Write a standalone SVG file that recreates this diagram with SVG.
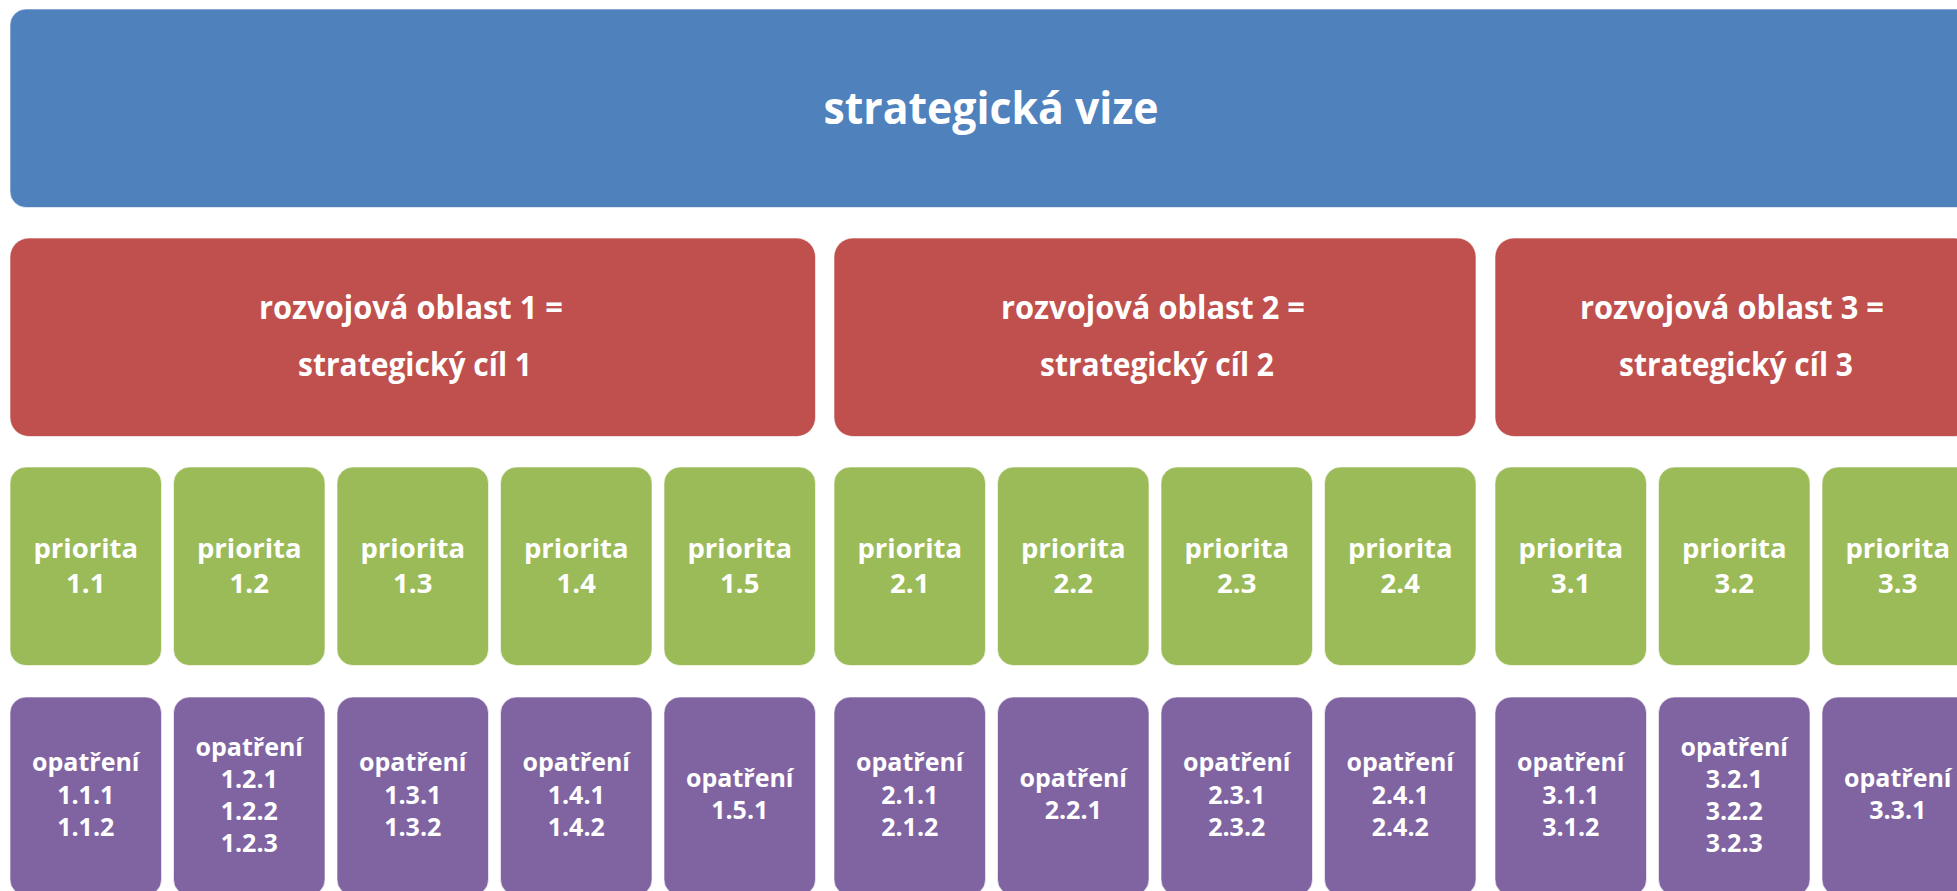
<svg xmlns="http://www.w3.org/2000/svg" width="1957" height="891" viewBox="0 0 1957 891">
<style>
  .box { stroke: #ffffff; stroke-opacity: 0.6; stroke-width: 1; }
  .vize { fill: #4F81BD; }
  .oblast { fill: #C0504D; }
  .prio { fill: #9BBB59; }
  .opat { fill: #8064A2; }
  text { font-family: "Open Sans", "Noto Sans", "Liberation Sans", sans-serif; font-weight: bold; fill: #ffffff; text-anchor: middle; }
  .t-vize { font-size: 45px; }
  .t-obl { font-size: 32px; }
  .t-prio { font-size: 27.5px; }
  .t-opat { font-size: 25px; }
</style>
<rect width="1957" height="891" fill="#ffffff"/>

<g id="vize">
  <rect class="box vize" x="10" y="9" width="1963.5" height="198.5" rx="16"/>
  <text class="t-vize" x="991" y="123.5" textLength="335" lengthAdjust="spacingAndGlyphs">strategická vize</text>
</g>

<g id="oblast1">
  <rect class="box oblast" x="10" y="238" width="805.5" height="198.5" rx="19"/>
  <text class="t-obl" x="411" y="319" textLength="304" lengthAdjust="spacingAndGlyphs">rozvojová oblast 1 =</text>
  <text class="t-obl" x="415" y="376" textLength="234" lengthAdjust="spacingAndGlyphs">strategický cíl 1</text>
</g>
<g id="oblast2">
  <rect class="box oblast" x="834" y="238" width="642" height="198.5" rx="19"/>
  <text class="t-obl" x="1153" y="319" textLength="304" lengthAdjust="spacingAndGlyphs">rozvojová oblast 2 =</text>
  <text class="t-obl" x="1157" y="376" textLength="234" lengthAdjust="spacingAndGlyphs">strategický cíl 2</text>
</g>
<g id="oblast3">
  <rect class="box oblast" x="1495" y="238" width="478.5" height="198.5" rx="19"/>
  <text class="t-obl" x="1732" y="319" textLength="304" lengthAdjust="spacingAndGlyphs">rozvojová oblast 3 =</text>
  <text class="t-obl" x="1736" y="376" textLength="234" lengthAdjust="spacingAndGlyphs">strategický cíl 3</text>
</g>

<g id="priorita1-1"><rect class="box prio" x="10" y="467" width="151.5" height="198.5" rx="16"/><text class="t-prio" x="85.75" y="558">priorita</text><text class="t-prio" x="85.75" y="593">1.1</text></g>
<g id="priorita1-2"><rect class="box prio" x="173.5" y="467" width="151.5" height="198.5" rx="16"/><text class="t-prio" x="249.25" y="558">priorita</text><text class="t-prio" x="249.25" y="593">1.2</text></g>
<g id="priorita1-3"><rect class="box prio" x="337" y="467" width="151.5" height="198.5" rx="16"/><text class="t-prio" x="412.75" y="558">priorita</text><text class="t-prio" x="412.75" y="593">1.3</text></g>
<g id="priorita1-4"><rect class="box prio" x="500.5" y="467" width="151.5" height="198.5" rx="16"/><text class="t-prio" x="576.25" y="558">priorita</text><text class="t-prio" x="576.25" y="593">1.4</text></g>
<g id="priorita1-5"><rect class="box prio" x="664" y="467" width="151.5" height="198.5" rx="16"/><text class="t-prio" x="739.75" y="558">priorita</text><text class="t-prio" x="739.75" y="593">1.5</text></g>
<g id="priorita2-1"><rect class="box prio" x="834" y="467" width="151.5" height="198.5" rx="16"/><text class="t-prio" x="909.75" y="558">priorita</text><text class="t-prio" x="909.75" y="593">2.1</text></g>
<g id="priorita2-2"><rect class="box prio" x="997.5" y="467" width="151.5" height="198.5" rx="16"/><text class="t-prio" x="1073.25" y="558">priorita</text><text class="t-prio" x="1073.25" y="593">2.2</text></g>
<g id="priorita2-3"><rect class="box prio" x="1161" y="467" width="151.5" height="198.5" rx="16"/><text class="t-prio" x="1236.75" y="558">priorita</text><text class="t-prio" x="1236.75" y="593">2.3</text></g>
<g id="priorita2-4"><rect class="box prio" x="1324.5" y="467" width="151.5" height="198.5" rx="16"/><text class="t-prio" x="1400.25" y="558">priorita</text><text class="t-prio" x="1400.25" y="593">2.4</text></g>
<g id="priorita3-1"><rect class="box prio" x="1495" y="467" width="151.5" height="198.5" rx="16"/><text class="t-prio" x="1570.75" y="558">priorita</text><text class="t-prio" x="1570.75" y="593">3.1</text></g>
<g id="priorita3-2"><rect class="box prio" x="1658.5" y="467" width="151.5" height="198.5" rx="16"/><text class="t-prio" x="1734.25" y="558">priorita</text><text class="t-prio" x="1734.25" y="593">3.2</text></g>
<g id="priorita3-3"><rect class="box prio" x="1822" y="467" width="151.5" height="198.5" rx="16"/><text class="t-prio" x="1897.75" y="558">priorita</text><text class="t-prio" x="1897.75" y="593">3.3</text></g>

<g id="opatreni1-1"><rect class="box opat" x="10" y="697" width="151.5" height="198.5" rx="16"/><text class="t-opat" x="85.75" y="771">opatření</text><text class="t-opat" x="85.75" y="803.5">1.1.1</text><text class="t-opat" x="85.75" y="836">1.1.2</text></g>
<g id="opatreni1-2"><rect class="box opat" x="173.5" y="697" width="151.5" height="198.5" rx="16"/><text class="t-opat" x="249.25" y="756">opatření</text><text class="t-opat" x="249.25" y="788">1.2.1</text><text class="t-opat" x="249.25" y="820">1.2.2</text><text class="t-opat" x="249.25" y="852">1.2.3</text></g>
<g id="opatreni1-3"><rect class="box opat" x="337" y="697" width="151.5" height="198.5" rx="16"/><text class="t-opat" x="412.75" y="771">opatření</text><text class="t-opat" x="412.75" y="803.5">1.3.1</text><text class="t-opat" x="412.75" y="836">1.3.2</text></g>
<g id="opatreni1-4"><rect class="box opat" x="500.5" y="697" width="151.5" height="198.5" rx="16"/><text class="t-opat" x="576.25" y="771">opatření</text><text class="t-opat" x="576.25" y="803.5">1.4.1</text><text class="t-opat" x="576.25" y="836">1.4.2</text></g>
<g id="opatreni1-5"><rect class="box opat" x="664" y="697" width="151.5" height="198.5" rx="16"/><text class="t-opat" x="739.75" y="787">opatření</text><text class="t-opat" x="739.75" y="819">1.5.1</text></g>
<g id="opatreni2-1"><rect class="box opat" x="834" y="697" width="151.5" height="198.5" rx="16"/><text class="t-opat" x="909.75" y="771">opatření</text><text class="t-opat" x="909.75" y="803.5">2.1.1</text><text class="t-opat" x="909.75" y="836">2.1.2</text></g>
<g id="opatreni2-2"><rect class="box opat" x="997.5" y="697" width="151.5" height="198.5" rx="16"/><text class="t-opat" x="1073.25" y="787">opatření</text><text class="t-opat" x="1073.25" y="819">2.2.1</text></g>
<g id="opatreni2-3"><rect class="box opat" x="1161" y="697" width="151.5" height="198.5" rx="16"/><text class="t-opat" x="1236.75" y="771">opatření</text><text class="t-opat" x="1236.75" y="803.5">2.3.1</text><text class="t-opat" x="1236.75" y="836">2.3.2</text></g>
<g id="opatreni2-4"><rect class="box opat" x="1324.5" y="697" width="151.5" height="198.5" rx="16"/><text class="t-opat" x="1400.25" y="771">opatření</text><text class="t-opat" x="1400.25" y="803.5">2.4.1</text><text class="t-opat" x="1400.25" y="836">2.4.2</text></g>
<g id="opatreni3-1"><rect class="box opat" x="1495" y="697" width="151.5" height="198.5" rx="16"/><text class="t-opat" x="1570.75" y="771">opatření</text><text class="t-opat" x="1570.75" y="803.5">3.1.1</text><text class="t-opat" x="1570.75" y="836">3.1.2</text></g>
<g id="opatreni3-2"><rect class="box opat" x="1658.5" y="697" width="151.5" height="198.5" rx="16"/><text class="t-opat" x="1734.25" y="756">opatření</text><text class="t-opat" x="1734.25" y="788">3.2.1</text><text class="t-opat" x="1734.25" y="820">3.2.2</text><text class="t-opat" x="1734.25" y="852">3.2.3</text></g>
<g id="opatreni3-3"><rect class="box opat" x="1822" y="697" width="151.5" height="198.5" rx="16"/><text class="t-opat" x="1897.75" y="787">opatření</text><text class="t-opat" x="1897.75" y="819">3.3.1</text></g>

<g id="connectors"></g>
</svg>
